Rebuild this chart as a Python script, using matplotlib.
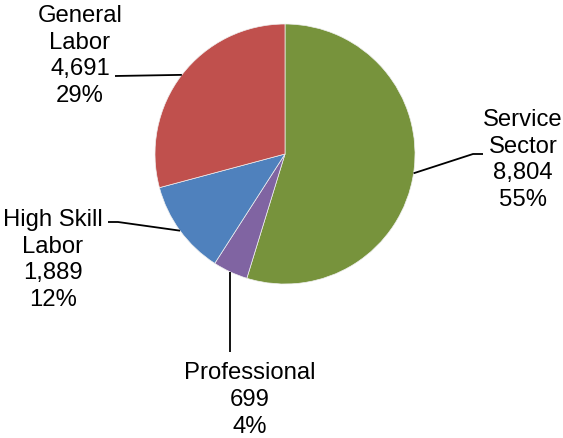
import numpy as np
import matplotlib
matplotlib.use("Agg")
import matplotlib.pyplot as plt

# Workforce by category
categories = ["Service\nSector", "Professional", "High Skill\nLabor", "General\nLabor"]
values = [8804, 699, 1889, 4691]
colors = ["#77933C", "#8064A2", "#4F81BD", "#C0504D"]

W, H = 563, 439
fig = plt.figure(figsize=(W / 100, H / 100), dpi=100)
ax = fig.add_axes([0, 0, 1, 1])

cx, cy, r = 285.0, H - 155.0, 130.0
wedges, _ = ax.pie(values, colors=colors, startangle=90, counterclock=False,
                   center=(cx, cy), radius=r, frame=True,
                   wedgeprops=dict(edgecolor="#f0f0f0", linewidth=0.5))
ax.set_xlim(0, W)
ax.set_ylim(0, H)
ax.set_aspect("equal")
ax.axis("off")

total = sum(values)
font = dict(family=["Liberation Sans", "DejaVu Sans"], fontsize=17.2,
            color="black", linespacing=1.27)

# label text centre (px from top-left) and leader-line elbow points;
# None in a point means "same x as the slice anchor" (vertical leader)
label_layout = [
    dict(text_xy=(523, 160), path=[(473, 155), (483, 155)]),
    dict(text_xy=(249.5, 400), path=[(None, 353)]),
    dict(text_xy=(53, 260), path=[(118, 223), (108, 223)]),
    dict(text_xy=(80, 56), path=[(115, 77)]),
]

for w, name, v, lay in zip(wedges, categories, values, label_layout):
    mid = np.deg2rad((w.theta1 + w.theta2) / 2)
    ax_pt = (cx + r * np.cos(mid), cy + r * np.sin(mid))
    xs = [ax_pt[0]] + [ax_pt[0] if p[0] is None else p[0] for p in lay["path"]]
    ys = [ax_pt[1]] + [H - p[1] for p in lay["path"]]
    ax.plot(xs, ys, color="black", lw=1.3, solid_capstyle="butt")
    label = f"{name}\n{v:,}\n{round(100 * v / total)}%"
    tx, ty = lay["text_xy"]
    ax.text(tx, H - ty, label, ha="center", va="center", **font)

fig.savefig("out.png", dpi=100)
